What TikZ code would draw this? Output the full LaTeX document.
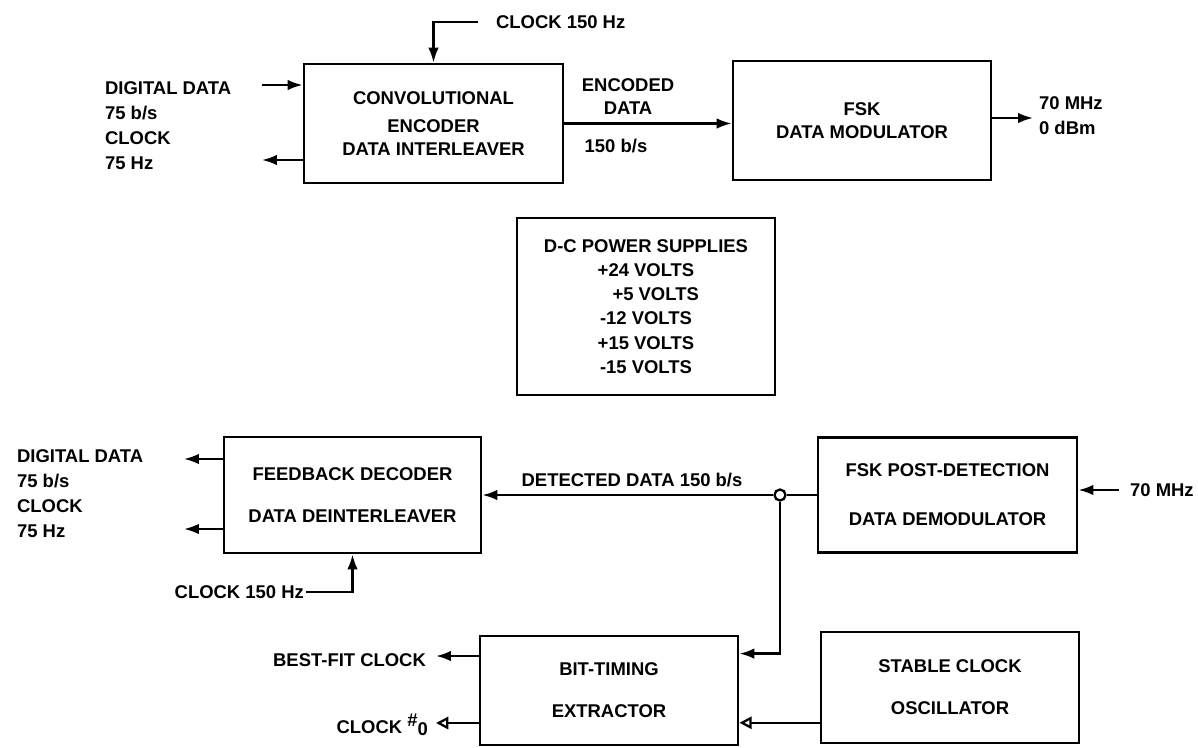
\documentclass[tikz,border=0pt]{standalone}
\usepackage{fontspec}
\setmainfont{Liberation Sans}
\usetikzlibrary{arrows.meta,calc}

\begin{document}
\begin{tikzpicture}[x=.2mm,y=-.2mm,font=\fontsize{10.5}{13}\selectfont\bfseries,
  blk/.style={draw,line width=1.6pt,minimum width=51.6mm,align=center,inner sep=0pt},
  lab/.style={inner sep=1pt,align=left},
  lab4/.style={lab,anchor=west,font=\fontsize{10.5}{14.2}\selectfont\bfseries},
  arr/.style={line width=1.3pt,-{Latex[length=8.5pt,width=6pt]}},
  oarr/.style={line width=1.3pt,-{Triangle[open,length=7pt,width=7pt]}}]
\useasboundingbox (0,0) rectangle (1198,747);
\node[blk,minimum width=51.8mm,minimum height=23.8mm] (enc) at (433.5,123.5) {CONVOLUTIONAL\\[3pt]ENCODER\\DATA INTERLEAVER};
\node[blk,minimum height=23.8mm] (fsk) at (862,120.5) {FSK\\DATA MODULATOR};
\node[blk,minimum height=35.4mm,font=\fontsize{10.5}{13.8}\selectfont\bfseries] (psu) at (646,306.5) {D-C POWER SUPPLIES\\+24 VOLTS\\\hspace{11pt}+5 VOLTS\\-12 VOLTS\\+15 VOLTS\\-15 VOLTS};
\node[blk,minimum width=51.4mm,minimum height=23.2mm] (dec) at (352.5,495) {FEEDBACK DECODER\\[11.4pt]DATA DEINTERLEAVER};
\node[blk,minimum width=51.8mm,minimum height=23mm] (dem) at (947.5,495) {FSK POST-DETECTION\\[15pt]DATA DEMODULATOR};
\node[blk,minimum height=21.8mm] (btx) at (609,690.5) {BIT-TIMING\\[11pt]EXTRACTOR};
\node[blk,minimum height=22.2mm] (osc) at (950,687.5) {STABLE CLOCK\\[11pt]OSCILLATOR};

\node[lab,anchor=west] (ckt) at (494,22) {CLOCK 150 Hz};\coordinate (ckin) at (478,22);\draw[arr] (ckin) -| (enc.north);
\node[lab4] (dd1) at (103,125.5) {DIGITAL DATA\\75 b/s\\CLOCK\\75 Hz};
\coordinate (din) at (262,85);\draw[arr] (din) -- (din -| enc.west);
\coordinate (cko) at (262,160);\draw[arr] (cko -| enc.west) -- (cko);
\draw[arr] (enc.east) -- (enc.east -| fsk.west);
\node[lab,align=center] (edl) at (628,96.5) {ENCODED\\DATA};\node[lab] (ebs) at (616,146) {150 b/s};
\coordinate (fo) at (1033,118);\draw[arr] (fo -| fsk.east) -- (fo);
\node[lab4] (fol) at (1037,115.5) {70 MHz\\0 dBm};

\node[lab4] (dd2) at (15,493.5) {DIGITAL DATA\\75 b/s\\CLOCK\\75 Hz};
\coordinate (do1) at (184,459);\coordinate (do2) at (184,529);
\draw[arr] (do1 -| dec.west) -- (do1);\draw[arr] (do2 -| dec.west) -- (do2);
\node[lab,anchor=east] (ckb) at (306,592) {CLOCK 150 Hz};\draw[arr] (ckb.east) -| (dec.south);
\node[draw,circle,fill=white,line width=1.3pt,inner sep=0pt,minimum size=2.2mm] (jn) at (780,495) {};
\draw[line width=1.3pt] (dem.west) -- (jn);\draw[arr] (jn) -- (dec.east);
\node[lab] (det) at (632,480) {DETECTED DATA 150 b/s};
\coordinate (btin) at ($(btx.north east)!.17!(btx.south east)$);\draw[arr] (jn) |- (btin);
\node[lab,anchor=west] (mhz) at (1128,490) {70 MHz};\coordinate (mi) at (1119,490);\draw[arr] (mi) -- (mi -| dem.east);
\coordinate (oo) at ($(osc.north west)!.81!(osc.south west)$);\draw[oarr] (oo) -- (oo -| btx.east);
\coordinate (bf) at (436,656);\draw[arr] (bf -| btx.west) -- (bf);
\node[lab,anchor=east] (bfl) at (428,660) {BEST-FIT CLOCK};
\coordinate (c0) at (436,723);\draw[oarr] (c0 -| btx.west) -- (c0);
\node[lab,anchor=east] (c0l) at (430,725) {CLOCK \raisebox{4pt}{\#}\raisebox{-1pt}{0}};
\end{tikzpicture}
\end{document}
